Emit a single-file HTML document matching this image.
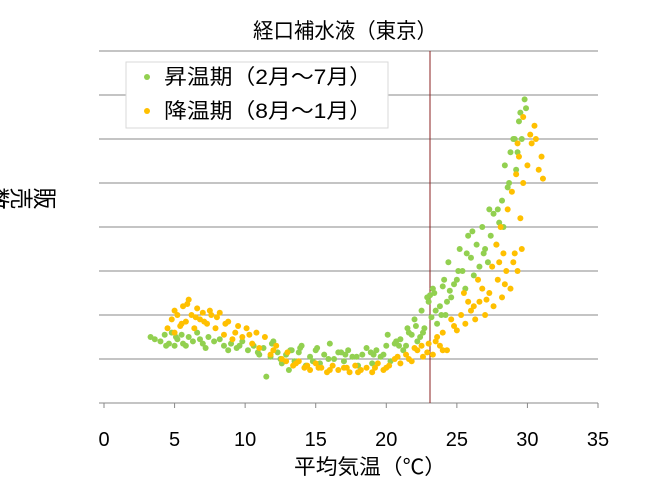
<!DOCTYPE html>
<html><head><meta charset="utf-8"><style>
body{margin:0;background:#fff;}
svg{display:block;font-family:"Liberation Sans","Noto Sans CJK JP",sans-serif;}
</style></head><body>
<svg id="chart" width="647" height="490">
<rect width="647" height="490" fill="#fff"/>
<text x="253" y="38" font-size="21" textLength="184" lengthAdjust="spacingAndGlyphs" fill="#000">経口補水液（東京）</text>
<g id="grid"></g>
<g id="xticks"></g>
<line x1="430" y1="51" x2="430" y2="403" stroke="#8b2020" stroke-width="1"/>
<g id="pts"></g>
<text transform="translate(57,197) rotate(90)" font-size="22" textLength="71" lengthAdjust="spacingAndGlyphs" style="writing-mode:tb">販売数</text>
<text x="294" y="474" font-size="21" textLength="152" lengthAdjust="spacingAndGlyphs">平均気温（℃）</text>
<g>
<rect x="126" y="62" width="262" height="66" fill="#fff" stroke="#d9d9d9"/>
<circle cx="147" cy="77" r="3" fill="#92d050"/>
<text x="164" y="84" font-size="21" textLength="208" lengthAdjust="spacingAndGlyphs">昇温期（2月～7月）</text>
<circle cx="147" cy="111" r="3" fill="#ffc000"/>
<text x="164" y="118" font-size="21" textLength="208" lengthAdjust="spacingAndGlyphs">降温期（8月～1月）</text>
</g>
</svg>
<script>
const xTicks=[0,5,10,15,20,25,30,35];
const yGrid=[0,1,2,3,4,5,6,7,8];
const risingTemps=[3.3,3.6,4,4.3,4.6,4.8,5,5.2,5.5,5.8,6,6.3,6.6,7,7.4,7.8,8.2,8.5,9,9.4,9.8,10.2,10.6,11,11.3,11.5,11.8,12,12.3,12.6,12.9,13.2,13.5,13.8,14,14.3,14.6,15,15.3,15.6,16,16.3,16.6,17,17.3,17.6,18,18.3,18.6,19,19.3,19.6,20,20.3,20.6,21,21.2,21.5,21.8,22,22.2,22.5,22.7,23,23.2,23.4,23.6,23.8,24,24.2,24.4,24.6,24.8,25,25.2,25.4,25.6,25.8,26,26.2,26.4,26.6,26.8,27,27.2,27.4,27.6,27.8,28,28.2,28.4,28.6,28.8,29,29.2,29.4,29.6,29.8,29.9,29.5,
4.4,5.1,5.6,6.8,7.2,8.8,9.6,10.9,12.5,13.1,13.9,14.8,15.9,16.8,17.9,18.9,19.8,20.1,20.9,21.6,22.1,22.4,22.9,23.3,23.5,23.9,24.1,24.5,25.1,25.7,26.1,26.9,27.3,27.9,28.3,28.7,29.1,29.3,22.6,21.4,20.7,19.1,17.1,15.1,13.3,11.9,24.3,23.1];
const risingSales=[1.5,1.45,1.4,1.55,1.35,1.6,1.3,1.45,1.55,1.3,1.5,1.4,1.6,1.35,1.5,1.4,1.45,1.3,1.35,1.25,1.4,1.2,1.3,1.1,1.25,0.6,1.05,1.4,1.15,0.9,1.1,1.2,0.95,1.15,1.3,0.85,1.05,1.2,0.9,1.1,1.35,1.0,1.15,0.95,1.2,1.05,0.85,1.1,1.25,0.9,1.2,1.05,1.3,0.95,1.35,1.45,1.2,1.7,1.55,1.9,1.4,2.1,1.7,2.3,1.95,2.5,1.8,2.2,2.65,2.0,3.2,2.4,2.7,2.8,3.5,3.0,2.6,3.8,3.3,2.9,3.6,3.1,4.0,3.5,3.2,3.8,4.3,3.6,4.1,4.6,5.4,4.9,5.7,6.0,5.3,6.4,6.0,6.9,6.7,6.6,
1.3,1.5,1.35,1.45,1.25,1.2,1.3,1.15,1.0,0.75,1.25,0.95,1.0,1.15,1.05,1.15,1.1,1.55,1.3,1.6,1.75,1.5,2.4,2.6,2.1,2.0,2.8,2.55,3.0,3.4,3.9,3.4,4.4,4.4,4.0,5.0,6.0,5.7,1.6,1.3,1.4,1.1,1.1,1.25,1.2,1.35,2.3,2.45];
const fallingTemps=[4.5,4.8,5,5.2,5.4,5.6,5.8,6,6.2,6.4,6.6,6.8,7,7.3,7.6,7.9,8.2,8.5,8.8,9.1,9.5,9.8,10.1,10.5,10.8,11,11.4,11.8,12.2,12.6,13,13.4,13.8,14.2,14.6,15,15.4,15.8,16.2,16.6,17,17.4,17.8,18.2,18.6,19,19.4,19.8,20.2,20.6,21,21.4,21.8,22.2,22.6,23,23.3,23.6,24,24.3,24.6,25,25.3,25.6,26,26.3,26.6,27,27.3,27.6,27.9,28.2,28.5,28.8,29,29.3,29.6,27.5,27.8,28.1,28.3,28.6,28.9,29.2,29.4,29.7,30,30.3,30.5,30.8,31,31.1,30.2,29.7,29.3,25.5,26.5,24,22.5,
5.0,5.5,5.9,6.5,7.1,7.5,8.0,8.6,9.3,10.3,12.0,12.9,13.6,14.4,15.2,16.0,17.2,18.0,19.2,20.0,20.8,21.6,22.0,22.9,23.5,23.8,24.8,26.2,27.1,28.4,29.1,29.5,30.6,28.0,26.8,25.8];
const fallingSales=[1.7,1.9,1.6,2.0,1.75,2.2,1.85,2.35,2.0,1.7,2.15,1.9,2.05,1.8,2.0,1.7,2.05,1.55,1.85,1.45,1.75,1.5,1.7,1.35,1.6,1.25,1.5,1.1,1.3,1.0,1.15,0.85,0.95,0.8,0.75,0.9,0.8,0.7,0.85,0.75,0.8,0.7,0.85,0.75,0.8,0.7,0.9,0.75,0.85,1.0,0.9,1.1,0.95,1.2,1.05,1.35,1.1,1.5,1.6,1.2,1.9,1.65,2.0,1.8,2.1,1.9,2.3,2.0,2.5,2.2,2.8,2.4,3.0,2.6,3.2,3.0,3.5,3.1,3.6,4.0,3.4,4.4,4.8,5.2,5.6,5.0,5.4,5.9,6.3,5.3,5.6,5.1,6.1,6.5,5.9,2.5,2.8,1.2,1.3,
2.1,1.8,2.25,1.95,1.85,2.1,1.95,1.8,1.6,1.55,1.2,0.95,0.9,0.85,0.8,0.75,0.8,0.7,0.8,0.8,1.05,1.0,1.25,1.15,1.4,1.3,1.75,2.2,2.35,2.7,3.4,4.2,6.0,3.2,2.6,2.3];
const NS="http://www.w3.org/2000/svg";
const X=t=>104+t*(494/35);
const Y=v=>403-v*44;
const grid=document.getElementById('grid');
yGrid.forEach(g=>{
 if(g>0){const l=document.createElementNS(NS,'line');
 l.setAttribute('x1',104);l.setAttribute('x2',598);l.setAttribute('y1',Y(g));l.setAttribute('y2',Y(g));
 l.setAttribute('stroke','#898989');
 
 
 grid.appendChild(l);}
 const tk=document.createElementNS(NS,'line');
 tk.setAttribute('x1',99);tk.setAttribute('x2',104);tk.setAttribute('y1',Y(g));tk.setAttribute('y2',Y(g));
 tk.setAttribute('stroke','#898989');
 
 
 grid.appendChild(tk);
});
const xa=document.getElementById('xticks');
const ax=document.createElementNS(NS,'line');
ax.setAttribute('x1',104);ax.setAttribute('x2',598);ax.setAttribute('y1',403);ax.setAttribute('y2',403);ax.setAttribute('stroke','#898989');


xa.appendChild(ax);
xTicks.forEach(t=>{
 const l=document.createElementNS(NS,'line');
 l.setAttribute('x1',X(t));l.setAttribute('x2',X(t));l.setAttribute('y1',403);l.setAttribute('y2',408);l.setAttribute('stroke','#898989');
 
 
 xa.appendChild(l);
 const tx=document.createElementNS(NS,'text');
 tx.setAttribute('x',X(t));tx.setAttribute('y',446);tx.setAttribute('font-size','20');tx.setAttribute('text-anchor','middle');
 tx.textContent=t;
 
 
 xa.appendChild(tx);
});
const pts=document.getElementById('pts');
function draw(ts,vs,color,name){
 ts.forEach((t,i)=>{
  const c=document.createElementNS(NS,'circle');
  c.setAttribute('cx',X(t));c.setAttribute('cy',Y(vs[i]));c.setAttribute('r',3);c.setAttribute('fill',color);
  
  
  pts.appendChild(c);
 });
}
draw(risingTemps,risingSales,'#92d050','point-rising');
draw(fallingTemps,fallingSales,'#ffc000','point-falling');
</script>
</body></html>
